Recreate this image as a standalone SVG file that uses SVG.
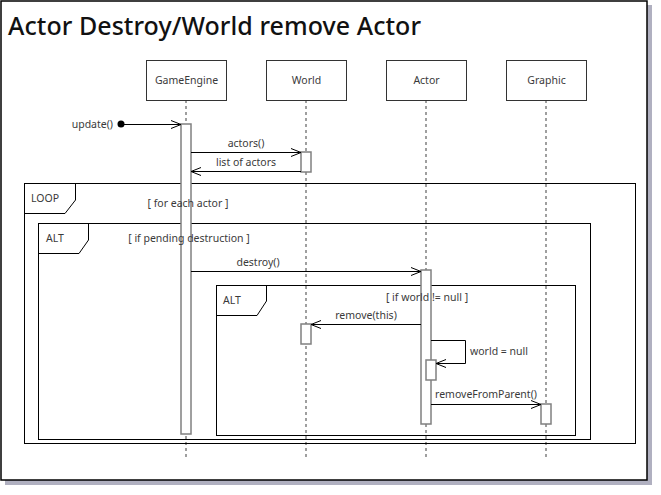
<svg xmlns="http://www.w3.org/2000/svg" width="661" height="495" viewBox="0 0 661 495">
<style>
  text { font-family: "Noto Sans", "DejaVu Sans", sans-serif; }
  .lbl { font-size: 10.5px; fill: #3a3a3a; }
  .title { font-size: 25px; font-weight: 500; fill: #111; }
  .box { fill: #fff; stroke: #333; stroke-width: 1; }
  .life { stroke: #808080; stroke-width: 1.5; stroke-dasharray: 3 3; fill: none; }
  .act { fill: #fff; stroke: #808080; stroke-width: 1.5; }
  .msg { stroke: #000; stroke-width: 1; fill: none; }
  .frame { fill: none; stroke: #000; stroke-width: 1; }
</style>
<defs>
  <marker id="open" markerWidth="12" markerHeight="10" refX="11" refY="5" orient="auto" markerUnits="userSpaceOnUse">
    <path d="M1,1 L11,5 L1,9" fill="none" stroke="#000" stroke-width="1"/>
  </marker>
</defs>
<rect x="5" y="5" width="647" height="480" fill="#b0b0c0"/>
<rect x="1" y="1" width="646" height="479" fill="#fff" stroke="#000" stroke-width="1.5"/>
<text class="title" x="8" y="35" textLength="413" lengthAdjust="spacing">Actor Destroy/World remove Actor</text>

<g id="lifelines">
  <line class="life" x1="186" y1="100" x2="186" y2="457"/>
  <line class="life" x1="306" y1="100" x2="306" y2="457"/>
  <line class="life" x1="426" y1="100" x2="426" y2="457"/>
  <line class="life" x1="546" y1="100" x2="546" y2="457"/>
</g>

<g id="GameEngine">
  <rect class="box" x="146.5" y="60.5" width="80" height="40"/>
  <text class="lbl" x="186.5" y="84" text-anchor="middle">GameEngine</text>
</g>
<g id="World">
  <rect class="box" x="266.5" y="60.5" width="80" height="40"/>
  <text class="lbl" x="306.5" y="84" text-anchor="middle">World</text>
</g>
<g id="Actor">
  <rect class="box" x="386.5" y="60.5" width="80" height="40"/>
  <text class="lbl" x="426.5" y="84" text-anchor="middle">Actor</text>
</g>
<g id="Graphic">
  <rect class="box" x="506.5" y="60.5" width="80" height="40"/>
  <text class="lbl" x="546.5" y="84" text-anchor="middle">Graphic</text>
</g>

<g id="frames">
  <g id="loop">
    <rect class="frame" x="24.5" y="183.5" width="611" height="260"/>
    <path class="frame" d="M24.5,213.5 H65 L75.5,200 V183.5"/>
    <text class="lbl" x="31" y="202">LOOP</text>
  </g>
  <g id="alt1">
    <rect class="frame" x="38.5" y="223.5" width="552" height="216"/>
    <path class="frame" d="M38.5,253.5 H79 L88.5,240 V223.5"/>
    <text class="lbl" x="46" y="242">ALT</text>
  </g>
  <g id="alt2">
    <rect class="frame" x="216.5" y="285.5" width="359" height="150"/>
    <path class="frame" d="M216.5,315.5 H257 L266.5,301 V285.5"/>
    <text class="lbl" x="223" y="304">ALT</text>
  </g>
</g>

<g id="activations">
  <rect class="act" x="181" y="124" width="10" height="310"/>
  <rect class="act" x="301" y="152" width="10" height="20"/>
  <rect class="act" x="421" y="270" width="10" height="154"/>
  <rect class="act" x="301" y="324" width="10" height="20"/>
  <rect class="act" x="426" y="360" width="10" height="20"/>
  <rect class="act" x="541" y="404" width="10" height="20"/>
</g>

<g id="guards">
  <text class="lbl" x="188" y="207" text-anchor="middle">[ for each actor ]</text>
  <text class="lbl" x="189" y="242" text-anchor="middle">[ if pending destruction ]</text>
  <text class="lbl" x="427" y="301" text-anchor="middle">[ if world != null ]</text>
</g>

<g id="connectors">
  <circle cx="121" cy="124" r="3.5" fill="#000"/>
  <line class="msg" x1="121" y1="124.5" x2="181" y2="124.5" marker-end="url(#open)"/>
  <text class="lbl" x="113" y="128" text-anchor="end">update()</text>

  <line class="msg" x1="191" y1="152.5" x2="301" y2="152.5" marker-end="url(#open)"/>
  <text class="lbl" x="246" y="147" text-anchor="middle">actors()</text>

  <line class="msg" x1="301" y1="171.5" x2="191" y2="171.5" marker-end="url(#open)"/>
  <text class="lbl" x="246" y="166" text-anchor="middle">list of actors</text>

  <line class="msg" x1="191" y1="271.5" x2="421" y2="271.5" marker-end="url(#open)"/>
  <text class="lbl" x="258" y="266" text-anchor="middle">destroy()</text>

  <line class="msg" x1="421" y1="324.5" x2="311" y2="324.5" marker-end="url(#open)"/>
  <text class="lbl" x="366" y="319" text-anchor="middle">remove(this)</text>

  <path class="msg" d="M431,340.5 H465.5 V363.5 H436" marker-end="url(#open)"/>
  <text class="lbl" x="470" y="355">world = null</text>

  <line class="msg" x1="431" y1="404.5" x2="541" y2="404.5" marker-end="url(#open)"/>
  <text class="lbl" x="486" y="398" text-anchor="middle">removeFromParent()</text>
</g>
</svg>
